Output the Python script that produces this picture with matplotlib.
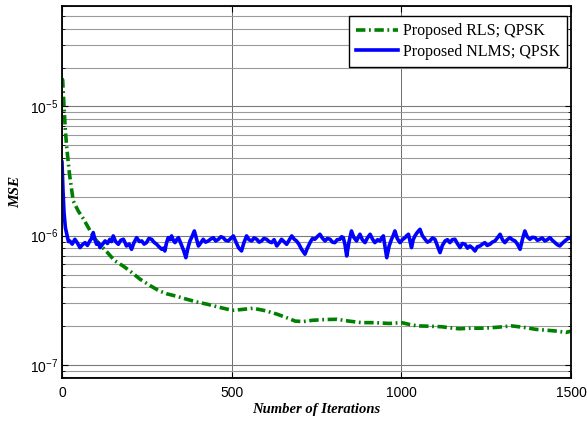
import matplotlib
matplotlib.use('Agg')
import matplotlib.pyplot as plt
import numpy as np
from matplotlib.ticker import LogLocator, NullFormatter

# Proposed RLS; QPSK
rls_iter = [0, 2, 6, 10, 14, 22, 33, 48, 63, 78, 92, 110, 132, 155, 181, 205,
            230, 260, 285, 308, 340, 367, 400, 429, 465, 502, 530, 563, 600,
            635, 665, 687, 710, 738, 775, 810, 845, 882, 920, 965, 1001, 1025,
            1047, 1080, 1119, 1145, 1171, 1205, 1243, 1280, 1300, 1325, 1360,
            1397, 1430, 1460, 1485, 1500]
rls_mse = [1.65e-5, 1.6e-5, 9.8e-6, 6.5e-6, 4.8e-6, 3.0e-6, 1.86e-6, 1.55e-6,
           1.35e-6, 1.15e-6, 9.85e-7, 8.6e-7, 7.5e-7, 6.4e-7, 5.8e-7, 5.2e-7,
           4.6e-7, 4.1e-7, 3.75e-7, 3.55e-7, 3.38e-7, 3.22e-7, 3.05e-7, 2.94e-7,
           2.78e-7, 2.64e-7, 2.68e-7, 2.74e-7, 2.62e-7, 2.46e-7, 2.3e-7, 2.18e-7,
           2.16e-7, 2.21e-7, 2.24e-7, 2.25e-7, 2.18e-7, 2.12e-7, 2.12e-7, 2.09e-7,
           2.12e-7, 2.05e-7, 2.0e-7, 1.99e-7, 1.97e-7, 1.93e-7, 1.9e-7, 1.92e-7,
           1.92e-7, 1.95e-7, 1.97e-7, 2.0e-7, 1.95e-7, 1.88e-7, 1.85e-7, 1.82e-7,
           1.78e-7, 1.82e-7]

# Proposed NLMS; QPSK, MSE en unites de 1e-6
nlms_iter = [0, 3, 6, 10, 15, 19, 23, 30, 38, 45, 53, 60, 68, 75, 82, 87, 92,
             97, 102, 107, 112, 120, 127, 134, 141, 146, 151, 158, 166, 173,
             181, 186, 190, 198, 205, 212, 220, 228, 235, 242, 249, 256, 264,
             271, 279, 286, 294, 299, 303, 308, 313, 318, 323, 328, 333, 338,
             343, 348, 353, 359, 365, 371, 377, 383, 390, 396, 402, 409, 416,
             423, 431, 438, 446, 453, 461, 468, 475, 482, 490, 497, 505, 512,
             520, 529, 536, 544, 551, 559, 566, 574, 581, 588, 595, 603, 610,
             618, 625, 633, 640, 647, 654, 662, 669, 677, 684, 691, 698, 706,
             716, 723, 731, 738, 745, 752, 760, 767, 775, 782, 790, 797, 804,
             811, 819, 824, 829, 834, 839, 846, 853, 860, 868, 873, 878, 885,
             893, 900, 908, 915, 922, 930, 937, 942, 947, 952, 957, 964, 971,
             976, 981, 988, 996, 1003, 1011, 1016, 1021, 1026, 1030, 1035, 1040,
             1047, 1055, 1062, 1070, 1077, 1084, 1092, 1099, 1106, 1114, 1121,
             1129, 1136, 1143, 1150, 1158, 1165, 1173, 1180, 1188, 1195, 1202,
             1210, 1217, 1224, 1232, 1239, 1246, 1253, 1261, 1268, 1276, 1283,
             1291, 1298, 1305, 1312, 1320, 1327, 1335, 1342, 1350, 1357, 1364,
             1371, 1379, 1386, 1394, 1401, 1408, 1415, 1423, 1430, 1438, 1445,
             1453, 1460, 1467, 1474, 1482, 1489, 1497, 1500]
nlms_mse_e6 = [3.7, 2.2, 1.5, 1.15, 1.0, 0.9, 0.91, 0.86, 0.937, 0.88, 0.808,
               0.85, 0.883, 0.84, 0.91, 0.95, 1.056, 0.93, 0.857, 0.88, 0.808,
               0.86, 0.91, 0.87, 0.937, 0.90, 0.995, 0.90, 0.857, 0.92, 0.937,
               0.88, 0.832, 0.86, 0.784, 0.88, 0.965, 0.90, 0.91, 0.86, 0.883,
               0.95, 0.937, 0.89, 0.857, 0.82, 0.784, 0.80, 0.761, 0.88, 0.965,
               0.93, 0.995, 0.92, 0.883, 0.93, 0.965, 0.90, 0.832, 0.76, 0.675,
               0.80, 0.91, 0.98, 1.087, 0.95, 0.832, 0.88, 0.937, 0.89, 0.91,
               0.94, 0.965, 0.91, 0.937, 0.98, 0.965, 0.92, 0.91, 0.95, 0.995,
               0.90, 0.808, 0.761, 0.88, 0.995, 0.93, 0.91, 0.96, 0.937, 0.89,
               0.91, 0.95, 0.937, 0.90, 0.883, 0.93, 0.832, 0.88, 0.937, 0.90,
               0.857, 0.92, 0.995, 0.94, 0.91, 0.86, 0.784, 0.718, 0.80, 0.883,
               0.95, 0.937, 0.98, 1.025, 0.96, 0.91, 0.95, 0.937, 0.89, 0.883,
               0.93, 0.937, 0.98, 0.965, 0.85, 0.696, 0.90, 1.087, 0.97, 0.91,
               0.97, 1.025, 0.93, 0.883, 0.96, 1.025, 0.94, 0.883, 0.93, 0.91,
               0.96, 0.995, 0.82, 0.675, 0.83, 0.937, 1.0, 1.087, 0.95, 0.883,
               0.93, 0.965, 1.0, 1.025, 0.90, 0.808, 0.93, 0.995, 1.06, 1.12,
               1.0, 0.937, 0.89, 0.91, 0.96, 0.937, 0.84, 0.739, 0.84, 0.91,
               0.93, 0.883, 0.93, 0.937, 0.87, 0.808, 0.87, 0.857, 0.80, 0.832,
               0.80, 0.761, 0.82, 0.832, 0.86, 0.883, 0.84, 0.857, 0.89, 0.91,
               0.96, 1.025, 0.93, 0.883, 0.93, 0.965, 0.93, 0.91, 0.86, 0.784,
               0.94, 1.087, 0.98, 0.937, 0.97, 0.965, 0.92, 0.937, 0.96, 0.91,
               0.93, 0.965, 0.92, 0.883, 0.85, 0.832, 0.87, 0.91, 0.94, 0.965,
               0.95]
nlms_mse = np.array(nlms_mse_e6) * 1e-6

plt.rcParams['font.family'] = 'Liberation Sans'
plt.rcParams['mathtext.fontset'] = 'custom'
plt.rcParams['mathtext.rm'] = 'Liberation Sans'
plt.rcParams['mathtext.it'] = 'Liberation Sans:italic'

fig = plt.figure(figsize=(5.87, 4.21), dpi=100)
ax = fig.add_axes([62 / 587, 1 - 378 / 421, 509 / 587, 372 / 421])

ax.plot(rls_iter, rls_mse, color='#008000', lw=2.6,
        ls=(0, (2.6, 1.0, 0.5, 1.0)), label='Proposed RLS; QPSK')
ax.plot(nlms_iter, nlms_mse, color='#0000ff', lw=2.6,
        label='Proposed NLMS; QPSK')

ax.set_yscale('log')
ax.set_xlim(0, 1500)
ax.set_ylim(7.9e-8, 6e-5)
ax.set_xticks([0, 500, 1000, 1500])
ax.yaxis.set_minor_locator(LogLocator(subs=range(2, 10)))
ax.yaxis.set_minor_formatter(NullFormatter())

# grille style MATLAB
ax.set_axisbelow(True)
ax.grid(True, which='major', axis='y', color='#7a7a7a', lw=0.8)
ax.grid(True, which='minor', axis='y', color='#9a9a9a', lw=0.8)
ax.grid(True, which='major', axis='x', color='#333333', lw=0.5)

ax.tick_params(which='both', direction='in', top=True, right=True,
               labelsize=10, color='black')
ax.tick_params(which='major', length=4)
ax.tick_params(which='minor', length=2.5)
ax.tick_params(axis='x', pad=6)
ax.tick_params(axis='y', pad=3)
for s in ax.spines.values():
    s.set_linewidth(1.3)

ax.set_xlabel('Number of Iterations', family='Liberation Serif',
              weight='bold', style='italic', fontsize=10.5, labelpad=2)
ax.set_ylabel('MSE', family='Liberation Serif', weight='bold',
              style='italic', fontsize=11, labelpad=5)

leg = ax.legend(loc='upper right', bbox_to_anchor=(0.992, 0.973),
                borderaxespad=0, fancybox=False, framealpha=1,
                edgecolor='black', handlelength=2.6, handletextpad=0.3,
                labelspacing=0.3, borderpad=0.45,
                prop={'family': 'Liberation Serif', 'size': 11.5})
leg.get_frame().set_linewidth(1.0)

fig.savefig('out.png', dpi=100)
